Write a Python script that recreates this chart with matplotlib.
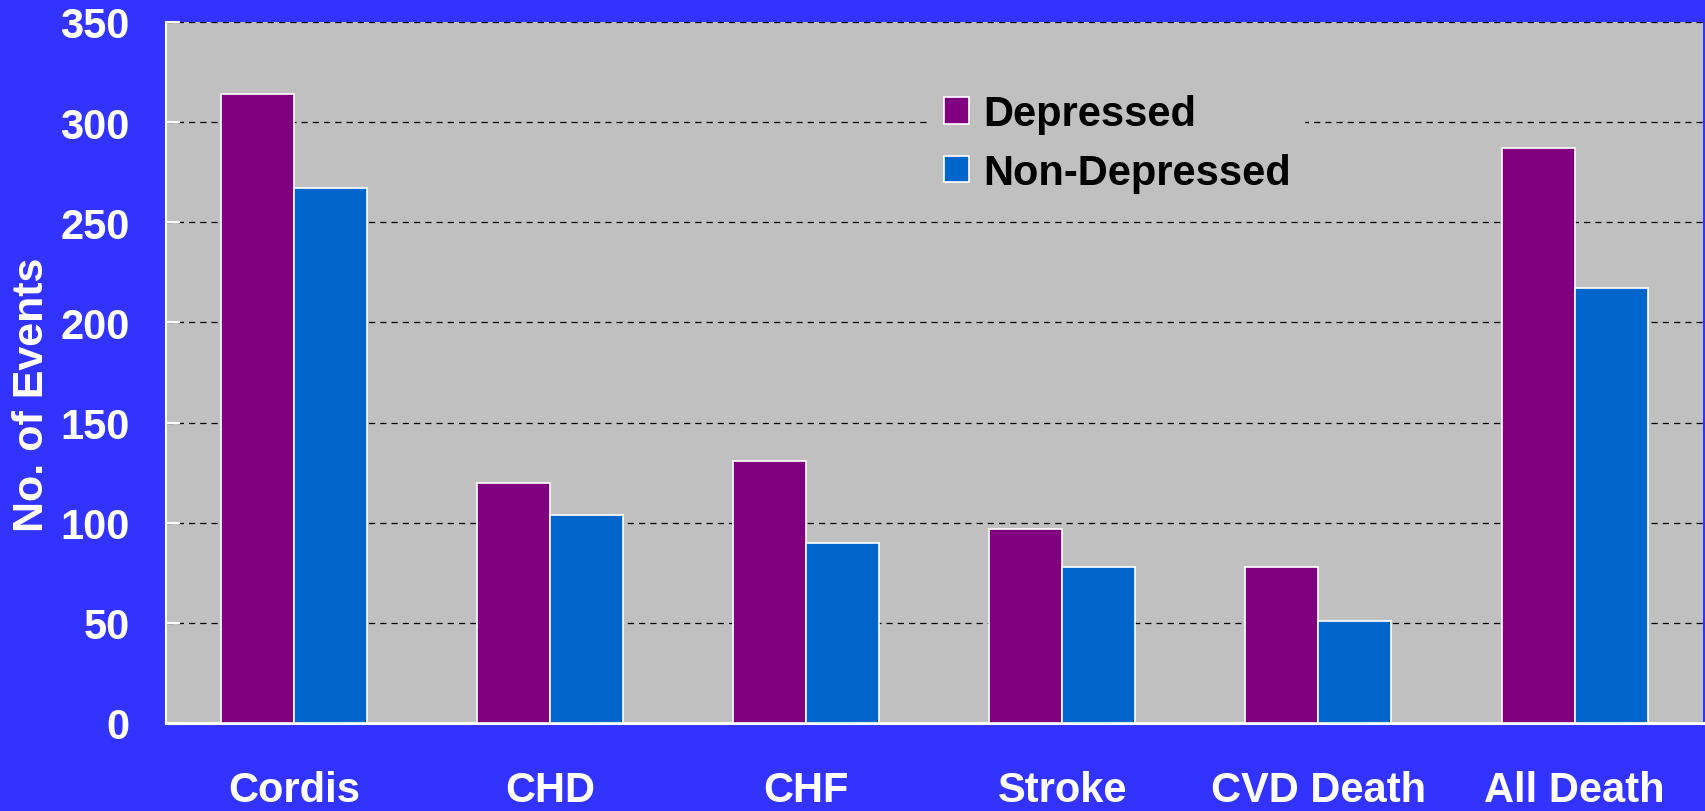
import matplotlib
matplotlib.use("Agg")
import numpy as np
import matplotlib.pyplot as plt
from matplotlib.patches import Patch

categories = ["Cordis", "CHD", "CHF", "Stroke", "CVD Death", "All Death"]
depressed = [314, 120, 131, 97, 78, 287]
non_depressed = [267, 104, 90, 78, 51, 217]
y_ticks = [0, 50, 100, 150, 200, 250, 300, 350]

BG = "#3333FF"
PANEL = "#C0C0C0"
PURPLE = "#800080"
BLUE = "#0066CC"

plt.rcParams["font.family"] = ["Liberation Sans", "DejaVu Sans"]
plt.rcParams["font.weight"] = "bold"

fig = plt.figure(figsize=(17.06, 8.12), dpi=100, facecolor=BG)
ax = fig.add_axes([0.0973, 0.1084, 0.9007, 0.8633])
ax.set_facecolor(PANEL)

x = np.arange(len(categories))
w = 0.285
ax.bar(x - w / 2, depressed, w, color=PURPLE, edgecolor="white", linewidth=1.2, zorder=3)
ax.bar(x + w / 2, non_depressed, w, color=BLUE, edgecolor="white", linewidth=1.2, zorder=3)

ax.set_xlim(-0.5, len(categories) - 0.5)
ax.set_ylim(0, 350)
ax.set_yticks(y_ticks)
ax.set_xticks(x)
ax.set_xticklabels(categories)

ax.yaxis.grid(True, color="black", linestyle=(0, (5, 4)), linewidth=0.9, zorder=1)
ax.set_axisbelow(True)

for side in ("top", "right"):
    ax.spines[side].set_visible(False)
ax.spines["left"].set_color("white")
ax.spines["left"].set_linewidth(1.5)
ax.spines["bottom"].set_color("white")
ax.spines["bottom"].set_linewidth(2.2)

ax.tick_params(axis="y", direction="in", length=10, width=1.5, color="white",
               labelcolor="white", labelsize=30, pad=26)
ax.tick_params(axis="x", length=0, labelcolor="white", labelsize=30, pad=34)

ax.set_ylabel("No. of Events", color="white", fontsize=31, fontweight="bold")
ax.yaxis.set_label_coords(-0.074, 0.47)

handles = [Patch(facecolor=PURPLE, edgecolor="white", linewidth=1.2),
           Patch(facecolor=BLUE, edgecolor="white", linewidth=1.2)]
leg = ax.legend(handles, ["Depressed", "Non-Depressed"], loc="upper left",
                bbox_to_anchor=(0.498, 0.915), frameon=True, facecolor=PANEL,
                edgecolor=PANEL, framealpha=1, fancybox=False,
                prop={"size": 30, "weight": "bold"}, handlelength=0.6,
                handleheight=0.6, handletextpad=0.35, labelspacing=0.45,
                borderpad=0.3, borderaxespad=0)
leg.set_zorder(5)

fig.savefig("out.png", dpi=100, facecolor=BG)
